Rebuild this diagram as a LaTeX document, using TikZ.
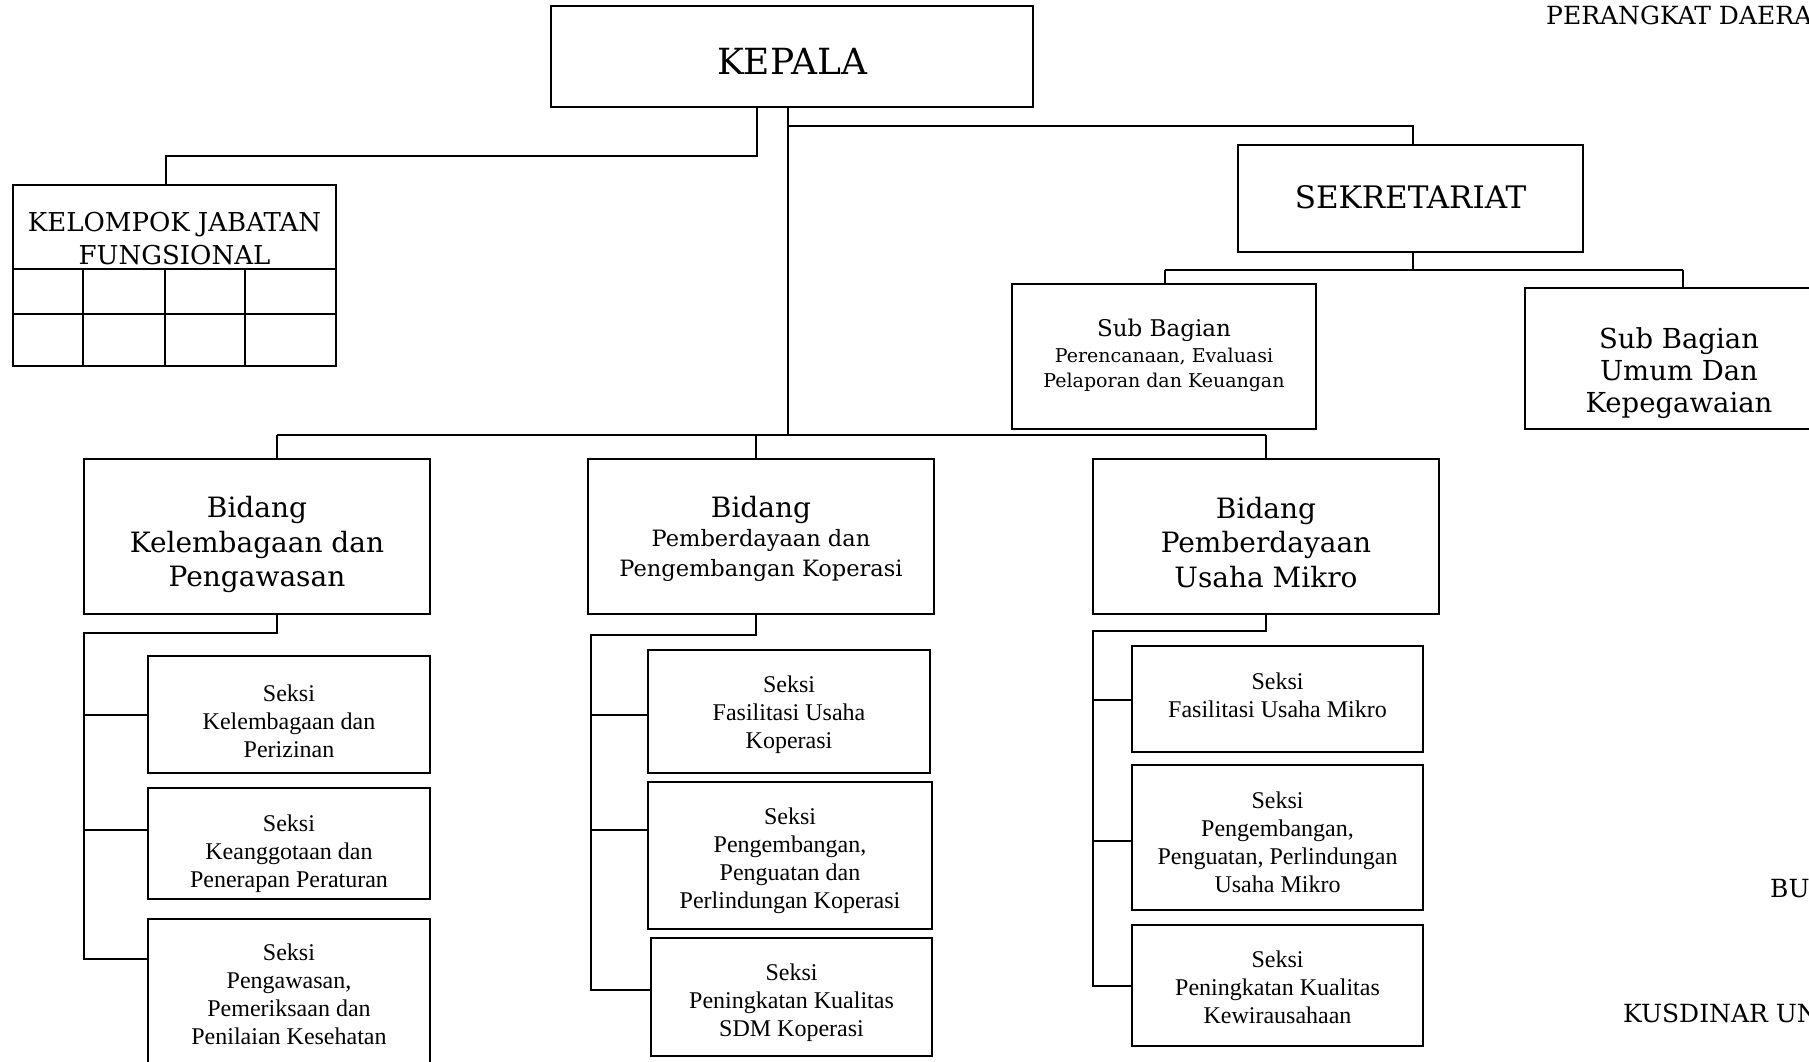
\documentclass[tikz,border=0pt]{standalone}
\usepackage{fontspec}
\setmainfont{Liberation Serif}
\newfontfamily\bk{DejaVu Serif}
\newcommand{\fs}[2]{\fontsize{#1}{#2}\selectfont}
% #1 name, #2 cx, #3 cy, #4 width, #5 height, #6 text shift, #7 text style, #8 text
\newcommand{\orgbox}[8]{%
  \node[box, minimum width=#4pt, minimum height=#5pt] (#1) at (#2,#3) {};
  \node[#7, inner sep=0pt, align=center] (#1t) at ([yshift=#6pt]#1.center) {#8};}

\begin{document}
\begin{tikzpicture}[x=1pt,y=-1pt,
  box/.style={draw, line width=1.6pt, inner sep=0pt},
  link/.style={line width=1.6pt},
  seksi/.style={font=\fs{24}{28}},
  bidang/.style={font=\bk\fs{28}{34.6}}]

\useasboundingbox (0,0) rectangle (1809,1061);
\fill[white] (0,0) rectangle (1809,1061);
\clip (0,0) rectangle (1809,1061);

% ---- top level
\orgbox{kepala}{792}{56.5}{482}{101}{-5}{font=\bk\fs{36}{40}}{KEPALA}

% ---- functional group with its grid
\orgbox{kjf}{174.5}{275.5}{323}{181}{37}{font=\bk\fs{26}{33}}{KELOMPOK JABATAN\\FUNGSIONAL}
\draw[link] (kjf.north west) ++(0,85) -- ++(323,0);
\draw[link] (kjf.north west) ++(0,130) -- ++(323,0);
\draw[link] (kjf.north west) ++(71,85) -- ++(0,96);
\draw[link] (kjf.north west) ++(153,85) -- ++(0,96);
\draw[link] (kjf.north west) ++(233,85) -- ++(0,96);

% ---- secretariat
\orgbox{sek}{1410.5}{198.5}{345}{107}{1}{font=\bk\fs{31}{36}}{SEKRETARIAT}
\orgbox{sb1}{1164}{356.5}{304}{145}{1}{font=\bk\fs{19}{25.5}}
  {{\fs{23}{25.5}Sub Bagian}\\Perencanaan, Evaluasi\\Pelaporan dan Keuangan}
\orgbox{sb2}{1679}{358.5}{308}{141}{-14.5}{font=\bk\fs{27.5}{32}}
  {Sub Bagian\\Umum Dan\\Kepegawaian}

% ---- divisions
\orgbox{b1}{257}{536.5}{346}{155}{-8}{bidang}{Bidang\\Kelembagaan dan\\Pengawasan}
\orgbox{b2}{761}{536.5}{346}{155}{-2}{font=\bk\fs{22.5}{29.5}}
  {{\fs{28}{29.5}Bidang}\\Pemberdayaan dan\\Pengembangan Koperasi}
\orgbox{b3}{1266}{536.5}{346}{155}{-6}{bidang}{Bidang\\Pemberdayaan\\Usaha Mikro}

% ---- sections
\orgbox{s11}{289}{714.5}{282}{117}{-7}{seksi}{Seksi\\Kelembagaan dan\\Perizinan}
\orgbox{s12}{289}{843.5}{282}{111}{-10}{seksi}{Seksi\\Keanggotaan dan\\Penerapan Peraturan}
\orgbox{s13}{289}{994.5}{282}{151}{0}{seksi}{Seksi\\Pengawasan,\\Pemeriksaan dan\\Penilaian Kesehatan}

\orgbox{s21}{789}{711.5}{282}{123}{-3}{seksi}{Seksi\\Fasilitasi Usaha\\Koperasi}
\orgbox{s22}{790}{855.5}{284}{147}{-5}{seksi}{Seksi\\Pengembangan,\\Penguatan dan\\Perlindungan Koperasi}
\orgbox{s23}{791.5}{997}{281}{118}{-6}{seksi}{Seksi\\Peningkatan Kualitas\\SDM Koperasi}

\orgbox{s31}{1277.5}{699}{291}{106}{4}{seksi}{Seksi\\Fasilitasi Usaha Mikro}
\orgbox{s32}{1277.5}{837.5}{291}{145}{-5}{seksi}{Seksi\\Pengembangan,\\Penguatan, Perlindungan\\Usaha Mikro}
\orgbox{s33}{1277.5}{985.5}{291}{121}{-2}{seksi}{Seksi\\Peningkatan Kualitas\\Kewirausahaan}

% ---- side texts
\node[anchor=base west, inner sep=0pt, font=\bk\fs{25}{27}] (perangkat) at (1546,24) {PERANGKAT DAERA};
\node[anchor=base west, inner sep=0pt, font=\bk\fs{25}{30}] (bu) at (1770,897) {BU};
\node[anchor=base west, inner sep=0pt, font=\bk\fs{25}{30}] (kus) at (1623,1022) {KUSDINAR UN};

% ---- connector junctions
\coordinate (jL) at (757,156);
\coordinate (jK) at (166,156);
\coordinate (trunk) at (788,435);
\coordinate (sj) at (788,126);
\coordinate (sk) at (1413,126);
\coordinate (sbus) at (1413,270);
\coordinate (sbL) at (1165,270);
\coordinate (sbR) at (1683,270);
\coordinate (busL) at (277,435);
\coordinate (busM) at (756,435);
\coordinate (busR) at (1266,435);

% ---- connectors from the head
\draw[link] (kepala.south -| jL) -- (jL) -- (jK) -- (kjf.north -| jK);
\draw[link] (kepala.south -| trunk) -- (trunk);
\draw[link] (sj) -- (sk) -- (sek.north -| sk);
\draw[link] (sek.south -| sbus) -- (sbus);
\draw[link] (sbL) -- (sbR);
\draw[link] (sbL) -- (sb1.north -| sbL);
\draw[link] (sbR) -- (sb2.north -| sbR);
\draw[link] (busL) -- (busR);
\draw[link] (busL) -- (b1.north -| busL);
\draw[link] (busM) -- (b2.north -| busM);
\draw[link] (busR) -- (b3.north -| busR);

% ---- connectors to the sections
\coordinate (c1a) at (277,633);
\coordinate (c1b) at (84,633);
\coordinate (t11) at (84,715);
\coordinate (t12) at (84,830);
\coordinate (t13) at (84,959);
\draw[link] (b1.south -| c1a) -- (c1a) -- (c1b) -- (t13) -- (s13.west |- t13);
\draw[link] (t11) -- (s11.west |- t11);
\draw[link] (t12) -- (s12.west |- t12);

\coordinate (c2a) at (756,635);
\coordinate (c2b) at (591,635);
\coordinate (t21) at (591,715);
\coordinate (t22) at (591,830);
\coordinate (t23) at (591,990);
\draw[link] (b2.south -| c2a) -- (c2a) -- (c2b) -- (t23) -- (s23.west |- t23);
\draw[link] (t21) -- (s21.west |- t21);
\draw[link] (t22) -- (s22.west |- t22);

\coordinate (c3a) at (1266,631);
\coordinate (c3b) at (1093,631);
\coordinate (t31) at (1093,700);
\coordinate (t32) at (1093,841);
\coordinate (t33) at (1093,986);
\draw[link] (b3.south -| c3a) -- (c3a) -- (c3b) -- (t33) -- (s33.west |- t33);
\draw[link] (t31) -- (s31.west |- t31);
\draw[link] (t32) -- (s32.west |- t32);
\end{tikzpicture}
\end{document}
